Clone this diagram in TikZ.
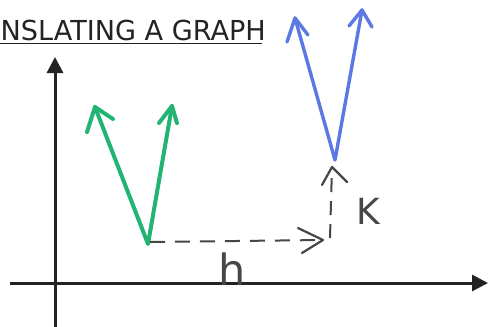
\documentclass[tikz,border=0pt]{standalone}
\usepackage{fontspec}
\setmainfont{DejaVu Sans}
\usetikzlibrary{arrows.meta}
\definecolor{gcol}{RGB}{34,180,115}
\definecolor{bcol}{RGB}{92,120,228}
\definecolor{ink}{RGB}{35,35,35}
\definecolor{pen}{RGB}{70,70,70}
\tikzset{
  axisline/.style={ink,line width=3pt,-{Triangle[length=16pt,width=16pt]}},
  greenpen/.style={gcol,line width=4pt,line cap=round,line join=round},
  bluepen/.style={bcol,line width=3.4pt,line cap=round,line join=round},
  dashpen/.style={pen,line width=2pt,dash pattern=on 15pt off 10pt},
  headpen/.style={pen,line width=2.2pt,line cap=round,line join=round},
  lbl/.style={pen,inner sep=0pt},
}
\begin{document}
\begin{tikzpicture}[x=1pt,y=-1pt]
\useasboundingbox (0,0) rectangle (488,327);
\fill[white] (0,0) rectangle (488,327);
% title
\node[anchor=base west,inner sep=0pt,ink,xscale=0.985,font=\fontsize{27.5}{27.5}\selectfont] (title) at (0.5,40) {NSLATING A GRAPH};
\draw[ink,line width=1.4pt] (0,43.5) -- (262,43.5);
% axes
\coordinate (ybot) at (55,327);
\coordinate (ytop) at (55,57);
\coordinate (xl) at (10,283);
\coordinate (xr) at (488,283);
\draw[axisline] (ybot) -- (ytop);
\draw[axisline] (xl) -- (xr);
% green V
\coordinate (gv) at (148,244);
\coordinate (gl) at (95,107);
\coordinate (gr) at (172,106);
\draw[greenpen] (gl) -- (gv) -- (gr);
\draw[greenpen] (87,132) -- (gl) -- (113,119);
\draw[greenpen] (159,123) -- (gr) -- (177,123);
% blue V
\coordinate (bv) at (335,160);
\coordinate (bl) at (295,18);
\coordinate (br) at (362,10);
\draw[bluepen] (bl) -- (bv) -- (br);
\draw[bluepen] (287,42) -- (bl) -- (308,35);
\draw[bluepen] (349,26) -- (br) -- (372,27);
% horizontal dashed shift
\coordinate (hend) at (323,240);
\draw[dashpen] (gv) ++(2,-2) -- (hend);
\draw[headpen] (298,228) -- (hend) -- (302,253);
% vertical dashed shift
\coordinate (vstart) at (330,238);
\coordinate (vend) at (332,167);
\draw[dashpen,dash pattern=on 14pt off 9pt] (vstart) -- (vend);
\draw[headpen] (322,185) -- (vend) -- (347,182);
% labels
\node[lbl,anchor=base,font=\fontsize{43}{43}\selectfont] (h) at (232,285) {h};
\node[lbl,anchor=base,font=\fontsize{36}{36}\selectfont] (k) at (368,224) {K};
\end{tikzpicture}
\end{document}
